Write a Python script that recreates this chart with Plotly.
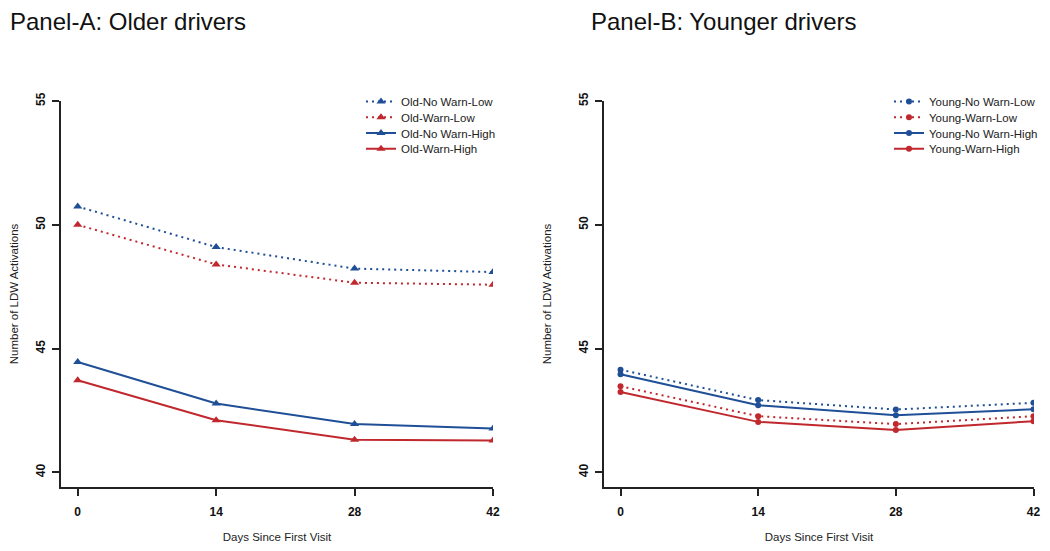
import plotly.graph_objects as go

days = [0, 14, 28, 42]

old_labels = ["Old-No Warn-Low", "Old-Warn-Low", "Old-No Warn-High", "Old-Warn-High"]
old_nowarn_low = [50.74, 49.10, 48.23, 48.09]
old_warn_low = [50.00, 48.40, 47.66, 47.58]
old_nowarn_high = [44.46, 42.78, 41.95, 41.77]
old_warn_high = [43.72, 42.11, 41.32, 41.29]

young_labels = ["Young-No Warn-Low", "Young-Warn-Low", "Young-No Warn-High", "Young-Warn-High"]
young_nowarn_low = [44.15, 42.92, 42.54, 42.81]
young_warn_low = [43.48, 42.27, 41.95, 42.27]
young_nowarn_high = [43.96, 42.71, 42.31, 42.55]
young_warn_high = [43.25, 42.04, 41.71, 42.07]

y_ticks = [40, 45, 50, 55]
x_ticks = [0, 14, 28, 42]

BLUE = "#1f4f96"
RED = "#c0282e"
FONT = "Liberation Sans, Arial, sans-serif"

# the page has an 8px body margin: size the figure so nothing overflows
OFF = 8
W, H = 1050 - 2 * OFF, 551 - 2 * OFF
def px(x):
    return (x - OFF) / W
def py(y):
    return 1 - (y - OFF) / H

styles = [(BLUE, "2px,4px"), (RED, "2px,4px"), (BLUE, "solid"), (RED, "solid")]
legend_rows = [101.5, 117.3, 133.0, 148.8]

fig = go.Figure()

for i, (name, vals, (col, dash)) in enumerate(zip(
        old_labels, [old_nowarn_low, old_warn_low, old_nowarn_high, old_warn_high], styles)):
    fig.add_trace(go.Scatter(x=days, y=vals, name=name, mode="lines+markers",
                             line=dict(color=col, width=2, dash=dash),
                             marker=dict(symbol="triangle-up", size=8, color=col),
                             showlegend=True,
                             xaxis="x", yaxis="y", legend="legend" if i == 0 else f"legend{i+1}"))

for i, (name, vals, (col, dash)) in enumerate(zip(
        young_labels, [young_nowarn_low, young_warn_low, young_nowarn_high, young_warn_high], styles)):
    fig.add_trace(go.Scatter(x=days, y=vals, name=name, mode="lines+markers",
                             line=dict(color=col, width=2, dash=dash),
                             marker=dict(symbol="circle", size=6, color=col),
                             showlegend=True,
                             xaxis="x2", yaxis="y2", legend=f"legend{i+5}"))

axis_common = dict(showline=True, linecolor="#222", linewidth=1.5, ticks="outside",
                   ticklen=7, tickwidth=1.5, tickcolor="#222", showgrid=False, zeroline=False,
                   ticklabeloverflow="allow",
                   tickfont=dict(family=FONT, size=12, color="#111", weight="bold"))

def xtitle():
    return dict(text="Days Since First Visit", font=dict(family=FONT, size=11.5, color="#222"), standoff=15)
def ytitle(standoff):
    return dict(text="Number of LDW Activations", font=dict(family=FONT, size=11.5, color="#222"),
                standoff=standoff)

layout = dict(
    width=W, height=H, margin=dict(l=0, r=0, t=0, b=0, autoexpand=False),
    plot_bgcolor="white", paper_bgcolor="white",
    font=dict(family=FONT),
    showlegend=True,
    xaxis=dict(domain=[px(61), px(493)], range=[-1.69, 42], tickvals=x_ticks, anchor="y",
               title=xtitle(), ticklabelstandoff=6, **axis_common),
    yaxis=dict(domain=[py(487), py(101)], range=[39.41, 55], tickvals=y_ticks, anchor="x",
               tickangle=-90, title=ytitle(17), ticklabelstandoff=2, **axis_common),
    xaxis2=dict(domain=[px(604), px(1034)], range=[-1.68, 42.05], tickvals=x_ticks, anchor="y2",
                title=xtitle(), ticklabelstandoff=6, **axis_common),
    yaxis2=dict(domain=[py(487), py(101)], range=[39.41, 55], tickvals=y_ticks, anchor="x2",
                tickangle=-90, title=ytitle(23), ticklabelstandoff=2, **axis_common),
    annotations=[
        dict(text="Panel-A: Older drivers", x=0, y=1, xref="paper", yref="paper",
             xanchor="left", yanchor="top", showarrow=False, yshift=2,
             font=dict(family=FONT, size=24, color="#111")),
        dict(text="Panel-B: Younger drivers", x=px(589), y=1, xref="paper", yref="paper",
             xanchor="left", yanchor="top", showarrow=False, yshift=2,
             font=dict(family=FONT, size=24, color="#111")),
    ],
)

for i in range(8):
    key = "legend" if i == 0 else f"legend{i+1}"
    lx = 361 if i < 4 else 889
    layout[key] = dict(x=px(lx), y=py(legend_rows[i % 4]), xanchor="left", yanchor="middle",
                       bgcolor="rgba(0,0,0,0)", borderwidth=0, visible=True,
                       font=dict(family=FONT, size=11.5, color="#222"))

fig.update_layout(**layout)

fig.write_html("out.html")
